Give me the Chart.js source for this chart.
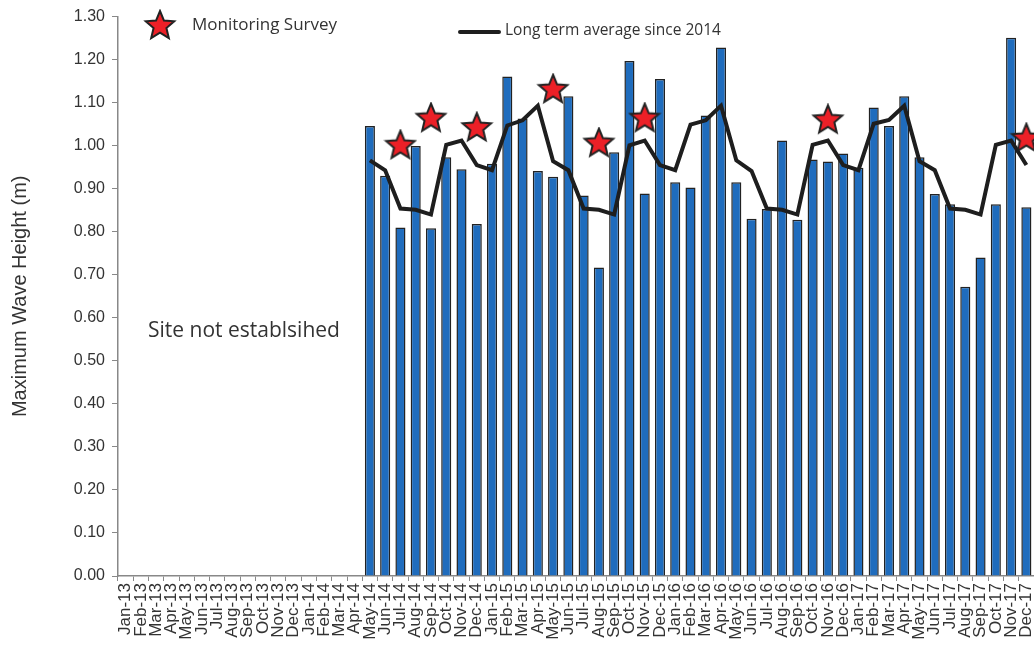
<!DOCTYPE html>
<html lang="en">
<head>
    <meta charset="UTF-8">
    <title>Maximum Wave Height</title>
    <script src="https://cdn.jsdelivr.net/npm/chart.js"></script>
    <style>
        body {
            margin: 0;
            padding: 0;
            background: #ffffff;
        }
        #wrap {
            width: 1034px;
            height: 645px;
        }
    </style>
</head>
<body>
    <div id="wrap">
        <canvas id="waveChart" width="1034" height="645"></canvas>
    </div>

    <script>
        // month labels Jan-13 .. Dec-17
        const months = ['Jan', 'Feb', 'Mar', 'Apr', 'May', 'Jun', 'Jul', 'Aug', 'Sep', 'Oct', 'Nov', 'Dec'];
        const years = ['13', '14', '15', '16', '17'];
        const categories = [];
        years.forEach(y => months.forEach(m => categories.push(m + '-' + y)));

        const yTicks = [0, 0.1, 0.2, 0.3, 0.4, 0.5, 0.6, 0.7, 0.8, 0.9, 1.0, 1.1, 1.2, 1.3];

        // maximum wave height per month (m), site not established before May-14
        const waveHeight = [
            null, null, null, null, null, null, null, null, null, null, null, null,
            null, null, null, null, 1.046, 0.930, 0.810, 0.999, 0.808, 0.973, 0.945, 0.818,
            0.958, 1.161, 1.063, 0.941, 0.928, 1.115, 0.884, 0.717, 0.985, 1.197, 0.889, 1.155,
            0.915, 0.903, 1.070, 1.228, 0.915, 0.830, 0.853, 1.012, 0.828, 0.968, 0.963, 0.982,
            0.949, 1.089, 1.046, 1.115, 0.973, 0.888, 0.864, 0.672, 0.740, 0.864, 1.251, 0.857
        ];

        // long term average since 2014
        const longTermAvg = [
            null, null, null, null, null, null, null, null, null, null, null, null,
            null, null, null, null, 0.966, 0.943, 0.854, 0.851, 0.840, 1.002, 1.012, 0.955,
            0.943, 1.047, 1.059, 1.093, 0.964, 0.943, 0.854, 0.851, 0.840, 1.001, 1.012, 0.955,
            0.943, 1.049, 1.059, 1.093, 0.966, 0.941, 0.854, 0.851, 0.840, 1.002, 1.012, 0.955,
            0.943, 1.051, 1.060, 1.093, 0.964, 0.943, 0.854, 0.851, 0.840, 1.002, 1.012, 0.955
        ];

        // monitoring survey markers
        const surveys = [
            null, null, null, null, null, null, null, null, null, null, null, null,
            null, null, null, null, null, null, 1.000, null, 1.063, null, null, 1.041,
            null, null, null, null, 1.130, null, null, 1.005, null, null, 1.063, null,
            null, null, null, null, null, null, null, null, null, null, 1.059, null,
            null, null, null, null, null, null, null, null, null, null, null, 1.016
        ];

        // filled red star used as point style
        function makeStar(r) {
            const c = document.createElement('canvas');
            const s = Math.ceil(r * 2 + 4);
            c.width = s;
            c.height = s;
            const ctx = c.getContext('2d');
            const cx = s / 2, cy = s / 2, inner = r * 0.45;
            ctx.beginPath();
            for (let i = 0; i < 10; i++) {
                const rad = i % 2 === 0 ? r : inner;
                const a = -Math.PI / 2 + i * Math.PI / 5;
                const px = cx + rad * Math.cos(a), py = cy + rad * Math.sin(a);
                if (i === 0) ctx.moveTo(px, py); else ctx.lineTo(px, py);
            }
            ctx.closePath();
            ctx.fillStyle = '#ec2027';
            ctx.fill();
            ctx.lineWidth = 2;
            ctx.strokeStyle = '#222222';
            ctx.stroke();
            return c;
        }
        const starImg = makeStar(15);

        // legend + note drawn as text on the canvas
        const notesPlugin = {
            id: 'notes',
            afterDraw(chart) {
                const ctx = chart.ctx;
                ctx.save();
                ctx.drawImage(starImg, 160 - starImg.width / 2, 26 - starImg.height / 2);
                ctx.fillStyle = '#333333';
                ctx.textBaseline = 'middle';
                ctx.textAlign = 'left';
                ctx.font = '17px "Open Sans"';
                ctx.fillText('Monitoring Survey', 192, 25);
                ctx.font = '15.5px "Open Sans"';
                ctx.fillText('Long term average since 2014', 505, 31);
                ctx.strokeStyle = '#1e1e1e';
                ctx.lineWidth = 4;
                ctx.lineCap = 'round';
                ctx.beginPath();
                ctx.moveTo(460, 32);
                ctx.lineTo(499, 32);
                ctx.stroke();
                ctx.font = '21px "Open Sans"';
                ctx.fillText('Site not establsihed', 148, 331);
                ctx.restore();
            }
        };

        const ctx = document.getElementById('waveChart').getContext('2d');
        new Chart(ctx, {
            type: 'bar',
            data: {
                labels: categories,
                datasets: [{
                    type: 'line',
                    label: 'Monitoring Survey',
                    data: surveys,
                    showLine: false,
                    pointStyle: starImg,
                    pointRadius: 15,
                    clip: false,
                    order: 0
                }, {
                    type: 'line',
                    label: 'Long term average since 2014',
                    data: longTermAvg,
                    borderColor: '#1e1e1e',
                    borderWidth: 4,
                    pointRadius: 0,
                    tension: 0,
                    fill: false,
                    order: 1
                }, {
                    label: 'Maximum Wave Height',
                    data: waveHeight,
                    backgroundColor: '#1f6cbd',
                    borderColor: '#222222',
                    borderWidth: 1.5,
                    barPercentage: 0.66,
                    categoryPercentage: 1.0,
                    order: 2
                }]
            },
            options: {
                responsive: false,
                animation: false,
                layout: {
                    autoPadding: false,
                    padding: { top: 14, right: 0, left: 0, bottom: 0 }
                },
                plugins: {
                    legend: { display: false },
                    tooltip: { enabled: false }
                },
                scales: {
                    x: {
                        offset: true,
                        grid: {
                            offset: true,
                            drawOnChartArea: false,
                            drawTicks: true,
                            tickLength: 5,
                            color: '#888888'
                        },
                        border: { color: '#888888', width: 1.5 },
                        ticks: {
                            autoSkip: false,
                            maxRotation: 90,
                            minRotation: 90,
                            padding: 2,
                            color: '#333333',
                            font: { family: '"Liberation Sans", Arial, sans-serif', size: 17 }
                        },
                        afterFit(axis) {
                            axis.height = 69;
                            axis.paddingLeft = 0;
                            axis.paddingRight = 0;
                        }
                    },
                    y: {
                        min: 0,
                        max: 1.3,
                        afterBuildTicks(axis) { axis.ticks = yTicks.map(v => ({ value: v })); },
                        grid: {
                            drawOnChartArea: false,
                            drawTicks: true,
                            tickLength: 6,
                            color: '#888888'
                        },
                        border: { color: '#888888', width: 1.5 },
                        ticks: {
                            padding: 7,
                            color: '#333333',
                            font: { family: '"Liberation Sans", Arial, sans-serif', size: 16 },
                            callback: v => Number(v).toFixed(2)
                        },
                        title: {
                            display: true,
                            text: 'Maximum Wave Height (m)',
                            color: '#333333',
                            padding: { top: 8, bottom: 4 },
                            font: { family: '"Liberation Sans", Arial, sans-serif', size: 20 }
                        },
                        afterFit(axis) { axis.width = 118; }
                    }
                }
            },
            plugins: [notesPlugin]
        });
    </script>
</body>
</html>
